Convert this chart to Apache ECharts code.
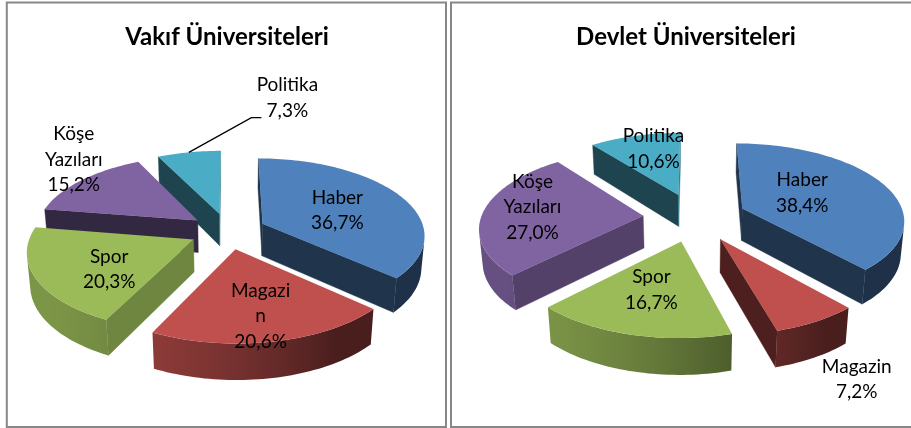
<!DOCTYPE html>
<html><head><meta charset="utf-8">
<style>html,body{margin:0;padding:0;background:#fff}#main{width:911px;height:428px}</style>
<script src="https://cdn.jsdelivr.net/npm/echarts@6/dist/echarts.min.js"></script>
</head><body><div id="main"></div>
<script>
// ---- data ----
const categories = ['Haber', 'Magazin', 'Spor', 'Köşe Yazıları', 'Politika'];
const vakifValues = [36.7, 20.6, 20.3, 15.2, 7.3];
const devletValues = [38.4, 7.2, 16.7, 27.0, 10.6];
const vakifLabelText = ['Haber', 'Magazi\nn', 'Spor', 'Köşe\nYazıları', 'Politika'];
const devletLabelText = ['Haber', 'Magazin', 'Spor', 'Köşe\nYazıları', 'Politika'];
const titles = ['Vakıf Üniversiteleri', 'Devlet Üniversiteleri'];

// ---- style / layout ----
const colors = ['#4F81BD', '#C0504D', '#9BBB59', '#8064A2', '#4BACC6'];
const vakifLayout = { cx: 228, cy: 231, scale: 162, explode: 0.236,
  labelR: [0.52, 0.75, 0.6, 1.3, 2.14], labelDA: [3, 1, -10, 9.7, 27.6], leader: [false, false, false, false, true] };
const devletLayout = { cx: 694.7, cy: 217, scale: 162, explode: 0.319,
  labelR: [0.45, 1.51, 0.56, 0.71, 0.74], labelDA: [-7.8, 4.3, 1.9, 6.1, 4.6], leader: [false, false, false, false, false] };

const RAD = Math.PI / 180;
const D = 6.5, TILT = 28 * RAD, H = 0.23;
const sinA = Math.sin(TILT), cosA = Math.cos(TILT);
const FONT = 'Lato, "Open Sans", sans-serif';

function shade(hex, f) {
  const r = parseInt(hex.slice(1, 3), 16), g = parseInt(hex.slice(3, 5), 16), b = parseInt(hex.slice(5, 7), 16);
  return 'rgb(' + Math.round(r * f) + ',' + Math.round(g * f) + ',' + Math.round(b * f) + ')';
}
function wallFactor(deg) {
  const a = deg * RAD;
  return 0.38 + 0.42 * Math.max(0, -0.85 * Math.sin(a) - 0.53 * Math.cos(a));
}
function cutFactor(normalDeg) {
  return 0.4 + 0.35 * Math.max(0, Math.sin(normalDeg * RAD));
}
function fmt(v) { return v.toFixed(1).replace('.', ',') + '%'; }

function buildSeries(name, values, labelText, L) {
  const total = values.reduce((a, b) => a + b, 0);
  let acc = 0;
  const sl = values.map(v => { const s = acc / total * 360; acc += v; const e = Math.min(360, acc / total * 360); return { s, e, m: (s + e) / 2 }; });
  const depthKey = sl.map(o => (L.explode + 0.5) * Math.cos(o.m * RAD));
  const order = depthKey.map((d, i) => i).sort((a, b) => depthKey[b] - depthKey[a]);
  const rank = []; order.forEach((idx, r) => { rank[idx] = r; });
  const F = L.scale * D;
  const camY = -D * cosA;
  function proj(x, y, z) {
    const dep = D + y * cosA - z * sinA;
    const up = y * sinA + z * cosA;
    return [L.cx + F * x / dep, L.cy - F * up / dep];
  }
  function facing(nx, ny, px, py) { return nx * (0 - px) + ny * (camY - py) > 0; }
  function poly(points, fill, z2) {
    return { type: 'polygon', shape: { points: points }, style: { fill: fill, stroke: fill, lineWidth: 0.4 }, z2: z2 };
  }
  return {
    type: 'custom', name: name, coordinateSystem: 'none', silent: true,
    data: values.map((v, i) => ({ name: categories[i], value: v })),
    renderItem: function (params, api) {
      const i = params.dataIndex;
      const o = sl[i];
      const base = colors[i];
      const z0 = rank[i] * 10;
      const ex = L.explode * Math.sin(o.m * RAD), ey = L.explode * Math.cos(o.m * RAD);
      const n = Math.max(2, Math.ceil((o.e - o.s) / 1.5));
      const angs = [];
      for (let k = 0; k <= n; k++) angs.push(o.s + (o.e - o.s) * k / n);
      const topPts = angs.map(a => proj(ex + Math.sin(a * RAD), ey + Math.cos(a * RAD), 0));
      const botPts = angs.map(a => proj(ex + Math.sin(a * RAD), ey + Math.cos(a * RAD), -H));
      const apexT = proj(ex, ey, 0), apexB = proj(ex, ey, -H);
      const children = [];
      const sA = o.s * RAD, eA = o.e * RAD;
      if (facing(-Math.cos(sA), Math.sin(sA), ex, ey)) children.push(poly([apexT, topPts[0], botPts[0], apexB], shade(base, cutFactor(o.s - 90)), z0));
      if (facing(Math.cos(eA), -Math.sin(eA), ex, ey)) children.push(poly([apexT, topPts[n], botPts[n], apexB], shade(base, cutFactor(o.e + 90)), z0));
      // outer wall runs
      let run = [];
      const flush = () => {
        if (run.length >= 2) {
          const pts = run.map(k => topPts[k]).concat(run.slice().reverse().map(k => botPts[k]));
          const xs = run.map(k => topPts[k][0]);
          const xmin = Math.min.apply(null, xs), xmax = Math.max.apply(null, xs);
          let fill;
          if (xmax - xmin < 1) fill = shade(base, wallFactor(angs[run[0]]));
          else {
            const stops = run.map(k => ({ offset: (topPts[k][0] - xmin) / (xmax - xmin), color: shade(base, wallFactor(angs[k])) }))
              .sort((a, b) => a.offset - b.offset);
            fill = { type: 'linear', x: xmin, y: 0, x2: xmax, y2: 0, global: true, colorStops: stops };
          }
          children.push({ type: 'polygon', shape: { points: pts }, style: { fill: fill }, z2: z0 });
        }
        run = [];
      };
      for (let k = 0; k < n; k++) {
        const am = (angs[k] + angs[k + 1]) / 2 * RAD;
        const vis = facing(Math.sin(am), Math.cos(am), ex + Math.sin(am), ey + Math.cos(am));
        if (vis) { if (run.length === 0) run.push(k); run.push(k + 1); }
        else flush();
      }
      flush();
      // top face
      children.push({ type: 'polygon', shape: { points: [apexT].concat(topPts) }, style: { fill: base }, z2: z0 + 1 });
      // label
      const la = (o.m + L.labelDA[i]) * RAD, lr = L.labelR[i];
      const lp = proj(ex + lr * Math.sin(la), ey + lr * Math.cos(la), 0);
      children.push({ type: 'text', x: lp[0], y: lp[1], z2: 1000,
        style: { text: labelText[i] + '\n' + fmt(values[i]), fill: '#000', fontFamily: FONT, fontSize: 19,
          lineHeight: 25.5, align: 'center', verticalAlign: 'middle' } });
      if (L.leader[i]) {
        const st = proj(ex + Math.sin(o.m * RAD), ey + Math.cos(o.m * RAD), 0);
        children.push({ type: 'polyline', z2: 1000, shape: { points: [st, [lp[0] - 36, lp[1] + 20], [lp[0] - 26, lp[1] + 20]] },
          style: { stroke: '#000', lineWidth: 1.3, fill: null } });
      }
      return { type: 'group', children: children };
    }
  };
}

const chart = echarts.init(document.getElementById('main'), null, { renderer: 'canvas' });
chart.setOption({
  backgroundColor: '#fff',
  animation: false,
  title: [
    { text: titles[0], left: 227, top: 25, textAlign: 'center', padding: 0,
      textStyle: { fontFamily: FONT, fontWeight: 'bold', fontSize: 24, color: '#000' } },
    { text: titles[1], left: 686, top: 25, textAlign: 'center', padding: 0,
      textStyle: { fontFamily: FONT, fontWeight: 'bold', fontSize: 24, color: '#000' } }
  ],
  graphic: { elements: [
    { type: 'rect', silent: true, shape: { x: 6.8, y: 2.5, width: 439.2, height: 424.5 }, style: { fill: null, stroke: '#878787', lineWidth: 2 } },
    { type: 'rect', silent: true, shape: { x: 451, y: 2.5, width: 470, height: 424.5 }, style: { fill: null, stroke: '#878787', lineWidth: 2 } }
  ] },
  series: [
    buildSeries(titles[0], vakifValues, vakifLabelText, vakifLayout),
    buildSeries(titles[1], devletValues, devletLabelText, devletLayout)
  ]
});
</script></body></html>
